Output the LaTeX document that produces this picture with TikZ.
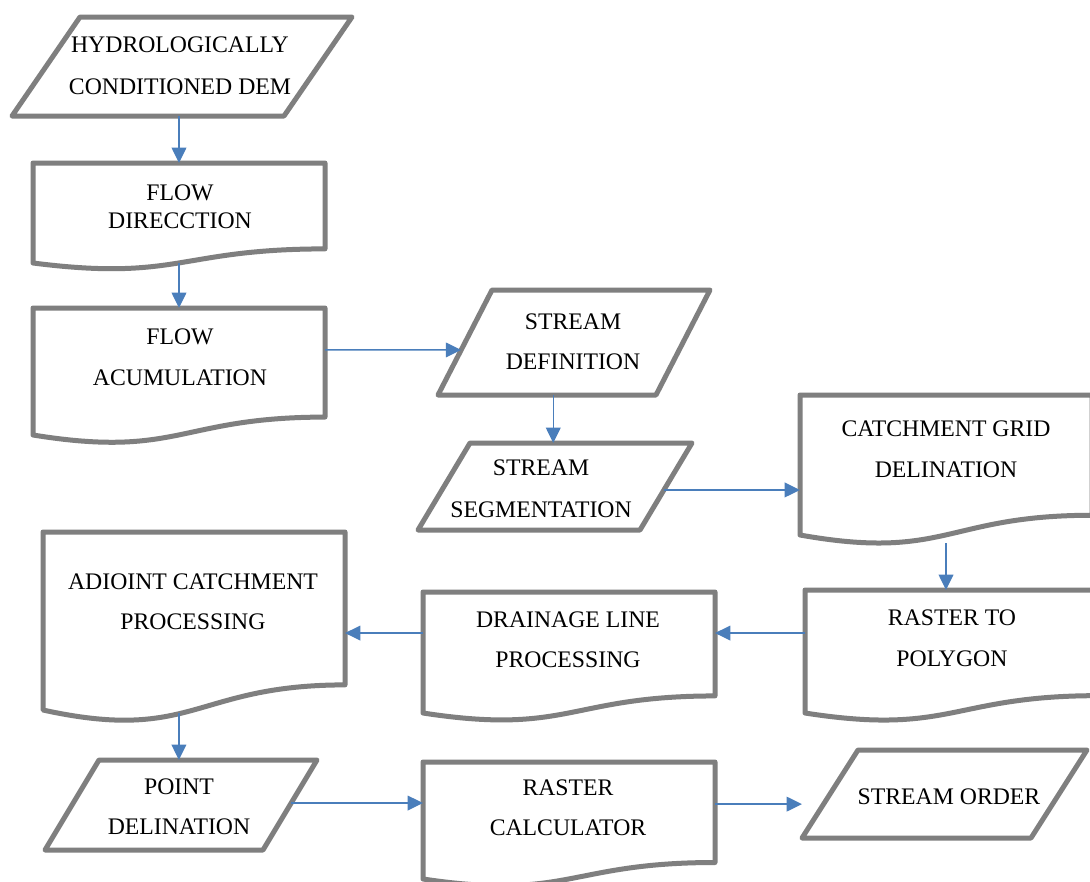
\documentclass[tikz,border=0pt]{standalone}
\usepackage{fontspec}
\setmainfont{Liberation Serif}
\usetikzlibrary{calc,fit,arrows.meta}
\definecolor{shapegray}{HTML}{7F7F7F}
\definecolor{arrowblue}{HTML}{4A7EBB}
\tikzset{
  shp/.style={draw=shapegray, line width=3.75pt, line join=round},
  arr/.style={draw=arrowblue, line width=1.1pt, -{Triangle[length=11.5pt,width=11pt]}},
  holder/.style={inner sep=0pt, outer sep=0pt},
  lbl/.style={align=center, inner sep=0pt, text=black},
}
% parallelogram: name, left, top, right, bottom, slant
\newcommand\mypara[6]{%
  \node[holder, fit={(#2,#3) (#4,#5)}] (#1) {};
  \coordinate (#1-tl) at ($(#1.north west)+(#6,0)$);
  \coordinate (#1-tr) at (#1.north east);
  \coordinate (#1-br) at ($(#1.south east)-(#6,0)$);
  \coordinate (#1-bl) at (#1.south west);
  \draw[shp] (#1-tl) -- (#1-tr) -- (#1-br) -- (#1-bl) -- cycle;}
% document shape: name, left, top, right, left-bottom
\newcommand\mydoc[5]{%
  \node[holder, fit={(#2,#3) (#4,#5)}] (#1) {};
  \draw[shp] (#1.north west) -- (#1.north east) -- ($(#1.north east)!0.859!(#1.south east)$)
    .. controls ($(#1.north)!0.859!(#1.south)$) and ($(#1.north)!1.186!(#1.south)$) .. (#1.south west) -- cycle;}
\newcommand\fs[1]{\fontsize{17.8pt}{#1}\selectfont}
\begin{document}
\begin{tikzpicture}[x=0.75pt, y=-0.75pt]
\clip (0,0) rectangle (1090,882);
\fill[white] (0,0) rectangle (1090,882);

% shapes
\mypara{dem}{12}{17}{352}{116}{68}
\mydoc{fd}{33}{163}{325}{263}
\mydoc{fa}{33}{308}{325}{435}
\mypara{sdef}{438}{290}{710}{395}{54}
\mypara{sseg}{418}{443}{692}{530}{52}
\mydoc{cg}{800}{395}{1092}{535}
\mydoc{rp}{805}{590}{1098}{713}
\mydoc{dl}{423}{592}{715}{713}
\mydoc{ac}{43}{532}{345}{710}
\mypara{pt}{45}{760}{317}{850}{54}
\mydoc{rc}{423}{762}{715}{879}
\mypara{so}{802}{750}{1087}{838}{56}

% texts
\node[lbl, font=\fs{31.5pt}] (dem-t) at (180,66) {HYDROLOGICALLY\\CONDITIONED DEM};
\node[lbl, font=\fs{21pt}] (fd-t) at (180,207) {FLOW\\DIRECCTION};
\node[lbl, font=\fs{30.75pt}] (fa-t) at (180,357) {FLOW\\ACUMULATION};
\node[lbl, font=\fs{30pt}] (sdef-t) at (573,342) {STREAM\\DEFINITION};
\node[lbl, font=\fs{31.5pt}] (sseg-t) at (541,489) {STREAM\\SEGMENTATION};
\node[lbl, font=\fs{30.75pt}] (cg-t) at (946,449.5) {CATCHMENT GRID\\DELINATION};
\node[lbl, font=\fs{30.75pt}] (rp-t) at (952,638.5) {RASTER TO\\POLYGON};
\node[lbl, font=\fs{30pt}] (dl-t) at (568,640) {DRAINAGE LINE\\PROCESSING};
\node[lbl, font=\fs{30pt}] (ac-t) at (193,602) {ADIOINT CATCHMENT\\PROCESSING};
\node[lbl, font=\fs{30pt}] (pt-t) at (179,807) {POINT\\DELINATION};
\node[lbl, font=\fs{30pt}] (rc-t) at (568,808) {RASTER\\CALCULATOR};
\node[lbl, font=\fs{22pt}] (so-t) at (949,797) {STREAM ORDER};

% connector helper coordinates
\coordinate (c3a) at ($(fa.north east)!0.33!(fa.south east)$);
\coordinate (c3b) at ($(sdef-tl)!0.571!(sdef-bl)$);
\coordinate (c4) at ($(sseg-tl)!0.375!(sseg-tr)$);
\coordinate (c5) at ($(sseg-tr)!0.54!(sseg-br)$);
\coordinate (c6) at ($(cg.south)+(0,8)$);
\coordinate (c7) at ($(rp.north west)!0.35!(rp.south west)$);
\coordinate (c9) at ($(ac.south west)!0.45!(ac.south east)+(0,3)$);
\coordinate (c10) at ($(pt-tr)!0.478!(pt-br)$);
\coordinate (c11) at ($(rc.north east)!0.36!(rc.south east)$);

% connectors
\draw[arr] (fd.north |- dem.south) -- (fd.north);
\draw[arr] (fd.south) -- (fa.north);
\draw[arr] (c3a) -- (c3b);
\draw[arr] (c4 |- sdef.south) -- (c4);
\draw[arr] (c5) -- (c5 -| cg.west);
\draw[arr] (c6) -- (c6 |- rp.north);
\draw[arr] (c7) -- (c7 -| dl.east);
\draw[arr] (c7 -| dl.west) -- (c7 -| ac.east);
\draw[arr] (c9) -- (c9 |- pt.north);
\draw[arr] (c10) -- (c10 -| rc.west);
\draw[arr] (c11) -- (c11 -| so.west);
\end{tikzpicture}
\end{document}
